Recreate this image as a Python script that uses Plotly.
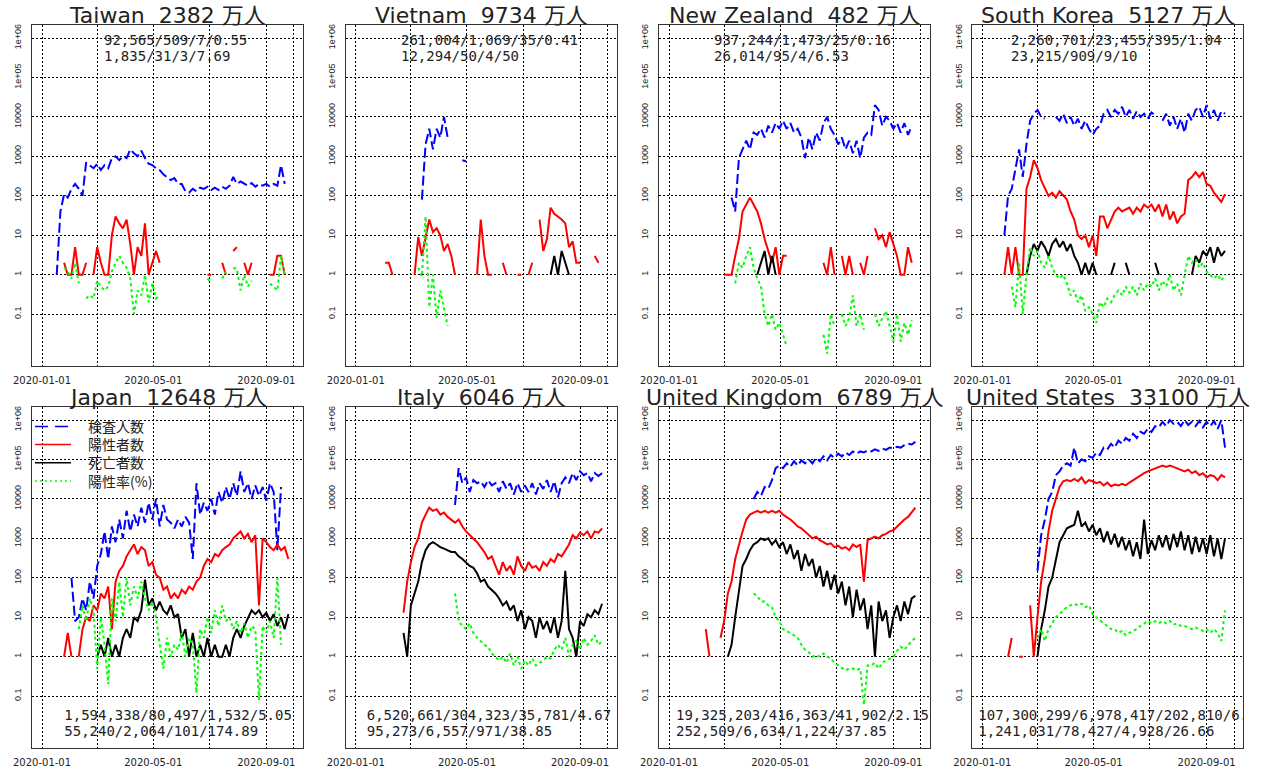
import datetime as dt
import plotly.graph_objects as go

W, H = 1265, 769
BASE = dt.datetime(2020, 1, 1)
STEP = 4  # days between readings

COUNTRIES = ["Taiwan", "Vietnam", "New Zealand", "South Korea",
             "Japan", "Italy", "United Kingdom", "United States"]
POP_MAN = [2382, 9734, 482, 5127, 12648, 6046, 6789, 33100]
SUMMARY_1 = ["92,565/509/7/0.55", "261,004/1,069/35/0.41", "937,244/1,473/25/0.16",
             "2,260,701/23,455/395/1.04", "1,594,338/80,497/1,532/5.05",
             "6,520,661/304,323/35,781/4.67", "19,325,203/416,363/41,902/2.15",
             "107,300,299/6,978,417/202,810/6.50"]
SUMMARY_2 = ["1,835/31/3/7.69", "12,294/50/4/50", "26,014/95/4/6.53", "23,215/909/9/10",
             "55,240/2,064/101/174.89", "95,273/6,557/971/38.85",
             "252,509/6,634/1,224/37.85", "1,241,031/78,427/4,928/26.66"]
LEGEND_LABELS = ["検査人数", "陽性者数", "死亡者数", "陽性率(%)"]
X_TICK_DATES = ["2020-01-01", "2020-03-01", "2020-05-01", "2020-07-01", "2020-09-01", "2020-10-01"]
X_TICK_TEXT = ["2020-01-01", "", "2020-05-01", "", "2020-09-01", ""]
Y_TICK_VALS = [0.1, 1, 10, 100, 1000, 10000, 100000, 1000000]
Y_TICK_TEXT = ["0.1", "1", "10", "100", "1000", "10000", "1e+05", "1e+06"]

# ---- data: (start index in 4-day steps from 2020-01-01, values) ----
TW_TESTS_START = 4
TW_TESTS = [1, 40, 110, 90, 150, 200, 150, 100, 700, 600, 500, 650, 450, 600, 500, 900, 1000, 800,
            1000, 900, 1500, 1200, 1000, 1400, 900, 650, 600, 500, 450, 350, 300, 250, 280, 200, 200,
            130, 120, 150, 130, 160, 150, 170, 140, 160, 140, 170, 150, 180, 300, 200, 230, 200, 180,
            210, 170, 200, 180, 200, 170, 200, 180, 600, 200]
TW_POS_START = 6
TW_POS = [2, 1, 1, 5, 1, 1, 2, None, 1, 5, 2, 1, 1, 10, 30, 20, 15, 25, 6, 1, 5, 3, 20, 1, 2, 4, 2,
          None, None, None, None, None, None, None, None, None, None, None, None,
          1, 1, None, None, 2, 1, None, 4, 5, None, 2, 1, 2, None, None, None, None, 1, 1, 3, 3, 1]
TW_DEATHS_START = 0
TW_DEATHS = []
TW_RATE_START = 6
TW_RATE = [1.5, 1.2, 0.8, 2, 0.6, None, 0.25, 0.3, 0.25, 0.7, 0.5, 0.4, 0.5, 1.2, 2, 3, 2, 1.5, 0.8,
           0.1, 0.4, 0.3, 1, 0.2, 0.6, 0.25, 0.3,
           None, None, None, None, None, None, None, None, None, None, None, None,
           0.8, 0.6, None, None, 0.8, 1.2, None, 1.5, 1.4, 0.4, 1, 0.5, 0.7, None, None, None, None,
           0.6, 0.5, 0.4, 3, 1]

VN_TESTS_START = 18
VN_TESTS = [80, 2000, 5000, 1500, 5000, 3000, 10000, 3000, None, None, None, 800, 750]
VN_POS_START = 8
VN_POS = [2, 2, 1, None, None, None, None, None, 1, 9,
          3, 9, 25, 12, 15, 10, 4, 6, 3, 1,
          None, None, None, None, None, 1, 25, 3, 1, 1,
          None, None, 2, 1, None, None, 1, 1, None, 1,
          2, None, 25, 4, 8, 50, 35, 30, 25, 20,
          5, 7, 2, 2, None, None, None, 3, 2]
VN_DEATHS_START = 53
VN_DEATHS = [1, 3, 1, 4, 2, 1]
VN_RATE_START = 17
VN_RATE = [1.5, 0.9, 30, 0.15, 1, 0.08, 0.4, 0.15, 0.05]

NZ_TESTS_START = 17
NZ_TESTS = [90, 40, 900, 1500, 2500, 1500, 4000, 3500, 5000, 3000,
            6000, 4000, 7000, 5000, 8000, 5000, 7000, 4000, 5000, 3000,
            900, 3000, 1500, 4000, 2500, 7000, 10000, 5000, 3500, 2000,
            3000, 1500, 2500, 1200, 2500, 900, 3000, 4000, 3500, 20000,
            15000, 6000, 10000, 8000, 5000, 7000, 4000, 7000, 3500, 6000]
NZ_POS_START = 15
NZ_POS = [1, 1, 1, 3, 8, 40, 60, 90, 60, 40,
          20, 8, 4, 2, 5, 1, 3, 3, None, None,
          None, None, None, None, None, None, None, 2, 1, 5,
          1, None, 3, 1, 3, 1, None, 2, 1, 3,
          None, 15, 8, 10, 5, 12, 6, 3, 1, 1,
          5, 2]
NZ_DEATHS_START = 24
NZ_DEATHS = [1, 2, 4, 1, 3, 1]
NZ_RATE_START = 18
NZ_RATE = [0.6, 2, 1.5, 3, 5, 1.5, 0.8, 0.5, 0.1, 0.05,
           0.1, 0.04, 0.06, 0.03, 0.015, None, None, None, None, None,
           None, None, None, None, 0.03, 0.01, 0.1, 0.05, None, 0.1,
           0.05, 0.08, 0.3, 0.05, 0.1, 0.04, None, None, 0.1, 0.05,
           0.08, 0.12, 0.05, 0.02, 0.1, 0.02, 0.06, 0.03, 0.07]

KR_TESTS_START = 6
KR_TESTS = [10, 100, 150, 500, 1500, 300, 2000, 8000, 12000, 15000,
            10000, 9000, None, None, 10000, 8000, 12000, 7000, 10000, 6000,
            9000, 5000, 8000, 5000, 3500, 5000, 6000, 12000, 15000, 10000,
            15000, 12000, 18000, 10000, 15000, 9000, 14000, 10000, 12000, 9000,
            13000, 11000, None, 8000, 12000, 6000, 10000, 5000, 9000, 4000,
            12000, 8000, 15000, 18000, 10000, 20000, 9000, 15000, 8000, 14000, 12000]
KR_POS_START = 6
KR_POS = [1, 5, 1, 5, 1, 1, 150, 300, 800, 500,
          250, 150, 100, 120, 90, 130, 100, 80, 40, 25,
          10, 8, 10, 5, 10, 3, 30, 30, 15, 25,
          40, 50, 40, 45, 50, 35, 50, 40, 60, 50,
          60, 40, 60, 30, 60, 25, 40, 20, 30, 35,
          250, 300, 400, 300, 400, 200, 180, 120, 90, 70, 110]
KR_DEATHS_START = 12
KR_DEATHS = [1, 3, 6, 4, 7, 5, 3, 6, 8, 5,
             7, 4, 6, 3, 2, 1, 2, 1, 2, 1,
             None, None, None, 1, 2, None, None, 2, 1, None,
             None, None, None, None, None, 2, 1, None, None, None,
             None, None, None, None, None, 1, 3, 2, 4, 3,
             5, 2, 5, 3, 4]
KR_RATE_START = 8
KR_RATE = [0.5, 0.15, 2, 0.1, 1, 5, 3, 4, 2, 1.5,
           3, 1.5, 1, 0.8, 1, 0.6, 0.3, 0.4, 0.2, 0.3,
           0.12, 0.15, 0.1, 0.06, 0.2, 0.15, 0.25, 0.2, 0.3, 0.4,
           0.3, 0.5, 0.35, 0.5, 0.3, 0.6, 0.4, 0.6, 0.5, 0.8,
           0.4, 0.7, 0.5, 1, 0.4, 0.6, 0.3, 1, 3, 2,
           2.5, 1.5, 2, 1.2, 1, 0.8, 1, 0.7, 1]

JP_TESTS_START = 8
JP_TESTS = [100, 8, 10, 30, 15, 80, 30, 200, 400, 1500,
            300, 2000, 800, 3000, 1000, 5000, 1500, 4000, 2000, 6000,
            2500, 8000, 3000, 10000, 2000, 7000, 3000, 2500, 1800, 3000,
            2000, 3500, 2500, 300, 25000, 4000, 8000, 5000, 10000, 4000,
            15000, 8000, 20000, 10000, 25000, 12000, 50000, 15000, 25000, 10000,
            22000, 12000, 20000, 9000, 25000, 15000, 500, 20000]
JP_POS_START = 6
JP_POS = [1, 4, 1, None, 1, 5, 10, 8, 20, 15,
          40, 30, 60, 5, 80, 150, 200, 350, 500, 700,
          400, 600, 500, 200, 250, 120, 100, 50, 60, 30,
          40, 30, 50, 40, 60, 50, 80, 100, 200, 300,
          250, 400, 350, 500, 600, 700, 1000, 1200, 1500, 1000,
          1300, 800, 1200, 20, 1000, 800, 600, 500, 700, 500,
          600, 300]
JP_DEATHS_START = 15
JP_DEATHS = [1, 2, 1, 3, 1, 2, 1, 3, 5, 3,
             10, 8, 15, 90, 20, 30, 15, 25, 15, 12,
             20, 10, 12, 3, 5, 1, 4, 1, 2, 1,
             3, 1, 2, 1, 1, 2, 1, 3, 5, 3,
             6, 10, 15, 12, 15, 10, 13, 8, 12, 6,
             10, 5, 12]
JP_RATE_START = 10
JP_RATE = [5, 20, 8, 30, 15, 0.5, 10, 2, 0.2, 30,
           8, 80, 10, 100, 20, 60, 30, 80, 30, 15,
           25, 10, 2, 0.5, 3, 1, 2, 1.5, 4, 1,
           3, 2, 0.12, 5, 3, 10, 4, 15, 6, 20,
           8, 10, 5, 8, 4, 7, 3, 6, 5, 0.08,
           6, 4, 8, 3, 100, 2]

IT_TESTS_START = 27
IT_TESTS = [7000, 60000, 25000, 35000, 15000, 30000, 25000, 28000, 20000, 30000,
            22000, 25000, 15000, 28000, 18000, 25000, 13000, 25000, 15000, 22000,
            15000, 25000, 13000, 25000, 18000, 30000, 15000, 28000, 11000, 25000,
            35000, 25000, 45000, 30000, 50000, 40000, 45000, 28000, 45000, 38000,
            45000]
IT_POS_START = 13
IT_POS = [13, 80, 250, 600, 1000, 2500, 4000, 6000, 5000, 5500,
          4000, 4500, 3500, 3000, 2500, 3000, 2000, 1500, 1200, 1000,
          800, 600, 450, 300, 350, 200, 120, 250, 150, 200,
          120, 350, 200, 150, 250, 180, 200, 150, 250, 200,
          300, 250, 400, 350, 500, 700, 1200, 1000, 1400, 1200,
          1500, 1000, 1500, 1400, 1800]
IT_DEATHS_START = 13
IT_DEATHS = [4, 1, 20, 40, 80, 250, 500, 700, 800, 700,
             600, 550, 500, 450, 450, 350, 300, 250, 200, 180,
             130, 80, 90, 60, 50, 40, 30, 20, 25, 15,
             20, 8, 15, 5, 10, 8, 3, 10, 5, 8,
             4, 10, 3, 8, 150, 5, 3, 1, 8, 6,
             12, 10, 15, 12, 22]
IT_RATE_START = 27
IT_RATE = [40, 8, 6, 5, 7, 4, 3, 2.5, 2, 1.8,
           1.2, 1, 0.8, 1, 0.7, 1.2, 0.6, 1, 0.5, 0.8,
           0.6, 0.9, 0.6, 0.7, 0.8, 1, 0.9, 1.5, 2, 1.5,
           3, 1, 2, 2.5, 1.5, 3, 2, 2.5, 3.5, 2,
           2.5]

UK_TESTS_START = 23
UK_TESTS = [10000, 15000, 12000, 20000, 18000, 30000, 60000, 70000, 60000, 80000,
            65000, 90000, 70000, 95000, 80000, 100000, 80000, 110000, 90000, 120000,
            95000, 130000, 110000, 140000, 120000, 150000, 130000, 160000, 140000, 160000,
            150000, 170000, 160000, 180000, 165000, 190000, 175000, 200000, 190000, 210000,
            200000, 230000, 250000, 240000, 280000]
UK_POS_START = 10
UK_POS = [5, 1, None, None, 3, 8, 40, 80, 300, 700,
          1500, 3000, 4000, 4500, 5000, 4500, 5000, 4500, 5000, 4500,
          5000, 4000, 3500, 3000, 2500, 2000, 1800, 1500, 1200, 1000,
          1100, 900, 800, 700, 750, 600, 650, 550, 600, 500,
          700, 600, 700, 80, 900, 1000, 1100, 1000, 1200, 1300,
          1500, 1600, 2000, 2500, 3000, 3500, 4500, 6000]
UK_DEATHS_START = 16
UK_DEATHS = [1, 2, 10, 40, 200, 300, 500, 700, 800, 1000,
             900, 1000, 700, 900, 600, 800, 400, 700, 300, 500,
             150, 400, 200, 300, 100, 200, 60, 150, 50, 120,
             40, 80, 20, 60, 10, 50, 15, 30, 5, 20,
             1, 25, 8, 15, 3, 10, 20, 8, 25, 12,
             30, 35]
UK_RATE_START = 23
UK_RATE = [40, 35, 25, 25, 20, 18, 10, 8, 5, 4.5,
           4, 3.5, 3, 2, 1.5, 1.3, 1, 1.1, 1, 1.2,
           1, 0.9, 0.7, 0.6, 0.5, 0.45, 0.5, 0.5, 0.45, 0.5,
           0.06, 0.6, 0.6, 0.7, 0.5, 0.7, 0.8, 0.9, 1, 1.4,
           1.8, 1.5, 2, 2.5, 3]

US_TESTS_START = 15
US_TESTS = [150, 1200, 3000, 10000, 15000, 40000, 50000, 70000, 80000, 70000,
            200000, 80000, 100000, 90000, 120000, 110000, 150000, 130000, 200000, 180000,
            250000, 200000, 300000, 250000, 350000, 300000, 450000, 350000, 500000, 450000,
            600000, 500000, 700000, 650000, 900000, 700000, 1000000, 800000, 900000, 700000,
            1000000, 750000, 900000, 700000, 950000, 650000, 900000, 700000, 950000, 600000,
            1000000, 200000]
US_POS_START = 7
US_POS = [1, 3, None, 1, 1, None, 20, 1, 10, 80,
          300, 1500, 5000, 10000, 20000, 28000, 30000, 28000, 32000, 28000,
          35000, 25000, 30000, 28000, 25000, 27000, 22000, 26000, 21000, 23000,
          22000, 24000, 22000, 26000, 30000, 35000, 40000, 45000, 50000, 55000,
          60000, 65000, 70000, 65000, 70000, 65000, 60000, 55000, 50000, 55000,
          45000, 50000, 40000, 45000, 35000, 40000, 38000, 30000, 40000, 35000]
US_DEATHS_START = 15
US_DEATHS = [1, 5, 15, 60, 100, 300, 800, 1200, 1800, 2000,
             2200, 5000, 2000, 2500, 1500, 2200, 1200, 1800, 800, 1500,
             700, 1300, 600, 1100, 500, 900, 350, 800, 300, 3000,
             400, 900, 500, 1200, 600, 1200, 500, 1300, 600, 1500,
             500, 1200, 400, 1100, 450, 1000, 400, 1200, 350, 1000,
             300, 1000]
US_RATE_START = 15
US_RATE = [3, 5, 2.5, 5, 7, 10, 12, 15, 18, 20,
           22, 20, 22, 18, 20, 12, 10, 8, 7, 6,
           5, 5, 4, 4.5, 3.5, 4, 4.5, 5, 6, 7,
           8, 7, 8, 7, 8, 7, 8, 6.5, 7, 6,
           6, 5.5, 5, 5.5, 5, 4.5, 5, 4, 5, 4,
           2.5, 15]

PANEL_SERIES = [
    [(TW_TESTS_START, TW_TESTS), (TW_POS_START, TW_POS), (TW_DEATHS_START, TW_DEATHS), (TW_RATE_START, TW_RATE)],
    [(VN_TESTS_START, VN_TESTS), (VN_POS_START, VN_POS), (VN_DEATHS_START, VN_DEATHS), (VN_RATE_START, VN_RATE)],
    [(NZ_TESTS_START, NZ_TESTS), (NZ_POS_START, NZ_POS), (NZ_DEATHS_START, NZ_DEATHS), (NZ_RATE_START, NZ_RATE)],
    [(KR_TESTS_START, KR_TESTS), (KR_POS_START, KR_POS), (KR_DEATHS_START, KR_DEATHS), (KR_RATE_START, KR_RATE)],
    [(JP_TESTS_START, JP_TESTS), (JP_POS_START, JP_POS), (JP_DEATHS_START, JP_DEATHS), (JP_RATE_START, JP_RATE)],
    [(IT_TESTS_START, IT_TESTS), (IT_POS_START, IT_POS), (IT_DEATHS_START, IT_DEATHS), (IT_RATE_START, IT_RATE)],
    [(UK_TESTS_START, UK_TESTS), (UK_POS_START, UK_POS), (UK_DEATHS_START, UK_DEATHS), (UK_RATE_START, UK_RATE)],
    [(US_TESTS_START, US_TESTS), (US_POS_START, US_POS), (US_DEATHS_START, US_DEATHS), (US_RATE_START, US_RATE)],
]

# ---- styling / layout (pixels) ----
SERIES_COLORS = ["#0000FF", "#FF0000", "#000000", "#00FF00"]
SERIES_DASH = ["10px,4px", "solid", "solid", "3px,3px"]
LEGEND_DASH = ["13px,7px", "solid", "solid", "2px,3px"]
COL_LEFT = [32.0, 345.7, 659.0, 972.3]
ROW_TOP = [25.4, 407.4]
PW, PH = 271.0, 340.8
XR = (-10.9, 283.9)       # days from 2020-01-01
YR = (-2.32, 6.32)        # log10
SUM_LEFT = [104, 401, 714, 1011, 64.3, 366.7, 676, 978.3]
SUM_Y = [(41.7, 57.5), (716.7, 732.2)]
TXT = "#222222"


def day_str(days):
    return (BASE + dt.timedelta(days=days)).strftime("%Y-%m-%d %H:%M:%S")


def px_to_day(col, xpx):
    return XR[0] + (xpx - COL_LEFT[col]) * (XR[1] - XR[0]) / PW


def px_to_val(row, ypx):
    return 10 ** (YR[1] - (ypx - ROW_TOP[row]) * (YR[1] - YR[0]) / PH)


fig = go.Figure()
layout_axes = {}
annotations = []
shapes = []

for k, country in enumerate(COUNTRIES):
    r, c = divmod(k, 4)
    xa = "x" if k == 0 else f"x{k + 1}"
    ya = "y" if k == 0 else f"y{k + 1}"
    for j, (start, vals) in enumerate(PANEL_SERIES[k]):
        if not vals:
            continue
        xs = [day_str(STEP * (start + n)) for n in range(len(vals))]
        fig.add_trace(go.Scatter(
            x=xs, y=vals, mode="lines", xaxis=xa, yaxis=ya, showlegend=False,
            name=LEGEND_LABELS[j],
            line=dict(color=SERIES_COLORS[j], width=2, dash=SERIES_DASH[j]),
            connectgaps=False))
    # summary text (clipped to the plot box like the original)
    dx = day_str(px_to_day(c, SUM_LEFT[k]))
    fig.add_trace(go.Scatter(
        x=[dx, dx], y=[px_to_val(r, SUM_Y[r][0]), px_to_val(r, SUM_Y[r][1])],
        mode="text", text=[SUMMARY_1[k], SUMMARY_2[k]], textposition="middle right",
        textfont=dict(family="DejaVu Sans Mono", size=14, color=TXT),
        cliponaxis=True, xaxis=xa, yaxis=ya, showlegend=False, hoverinfo="skip"))

    left, top = COL_LEFT[c], ROW_TOP[r]
    xdom = [left / W, (left + PW) / W]
    ydom = [1 - (top + PH) / H, 1 - top / H]
    xkey = "xaxis" if k == 0 else f"xaxis{k + 1}"
    ykey = "yaxis" if k == 0 else f"yaxis{k + 1}"
    layout_axes[xkey] = dict(
        domain=xdom, anchor=ya, type="date", range=[day_str(XR[0]), day_str(XR[1])],
        tickmode="array", tickvals=X_TICK_DATES, ticktext=X_TICK_TEXT, automargin=False,
        showgrid=True, gridcolor="#000000", griddash="2px,2px", gridwidth=1,
        showline=True, mirror=True, linecolor="#333333", linewidth=1,
        ticks="", ticklabelstandoff=5, zeroline=False,
        tickfont=dict(family="DejaVu Sans", size=10, color=TXT))
    layout_axes[ykey] = dict(
        domain=ydom, anchor=xa, type="log", range=list(YR), automargin=False,
        tickmode="array", tickvals=Y_TICK_VALS, ticktext=Y_TICK_TEXT, tickangle=-90,
        showgrid=True, gridcolor="#000000", griddash="2px,2px", gridwidth=1,
        showline=True, mirror=True, linecolor="#333333", linewidth=1,
        ticks="", ticklabelstandoff=6, zeroline=False,
        tickfont=dict(family="Liberation Sans", size=9, color=TXT))
    annotations.append(dict(
        text=f"{country}\u00a0 {POP_MAN[k]} 万人", xref="paper", yref="paper",
        x=(left + PW / 2) / W, y=1 - (top - 9.5) / H, xanchor="center", yanchor="middle",
        showarrow=False, font=dict(family="DejaVu Sans, Noto Sans CJK JP", size=22, color=TXT)))

# legend in the Japan panel: symbol lines as shapes, labels as one multi-line text block
LEG_Y = [426.4, 444.6, 462.8, 481.0]
for j in range(len(LEGEND_LABELS)):
    shapes.append(dict(type="line", xref="paper", yref="paper",
                       x0=35 / W, x1=71 / W, y0=1 - LEG_Y[j] / H, y1=1 - LEG_Y[j] / H,
                       line=dict(color=SERIES_COLORS[j], width=1.5, dash=LEGEND_DASH[j])))
annotations.append(dict(text="<br>".join(LEGEND_LABELS), xref="paper", yref="paper",
                        x=86 / W, y=1 - (LEG_Y[0] + LEG_Y[-1]) / 2 / H,
                        xanchor="left", yanchor="middle", align="left", showarrow=False,
                        font=dict(family="Noto Sans CJK JP", size=14, color=TXT)))

fig.update_layout(
    width=W, height=H, margin=dict(l=0, r=0, t=0, b=0, autoexpand=False),
    paper_bgcolor="white", plot_bgcolor="white", showlegend=False,
    annotations=annotations, shapes=shapes, **layout_axes)

fig.write_html("out.html", config={"displayModeBar": False},
               post_script="document.body.style.margin='0';")
